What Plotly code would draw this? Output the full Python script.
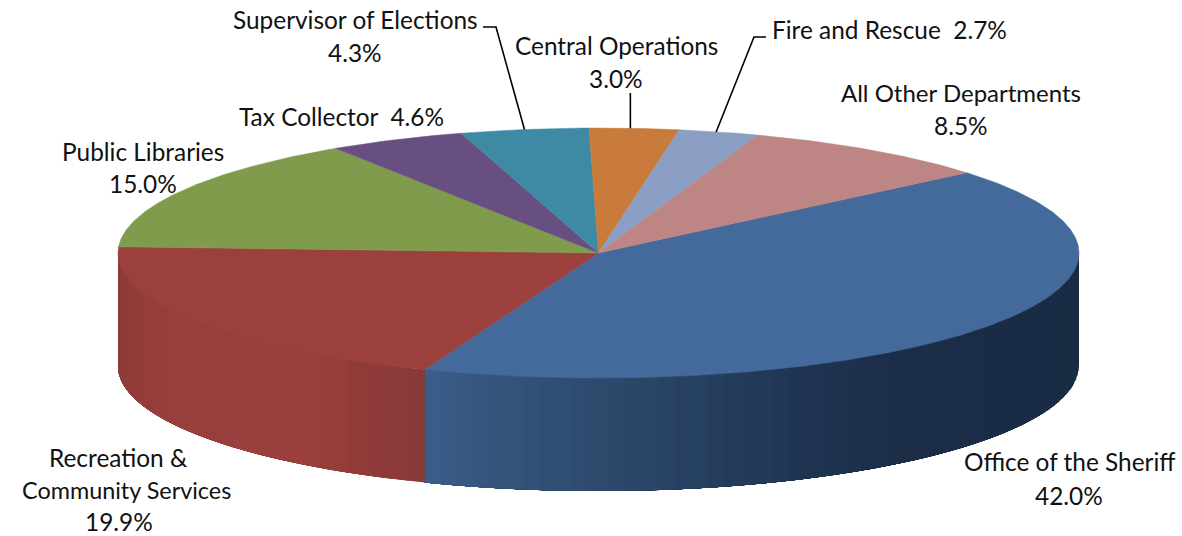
import math
import plotly.graph_objects as go

# ---- data ----
categories = ["Office of the Sheriff", "Recreation & Community Services", "Public Libraries",
              "Tax Collector", "Supervisor of Elections", "Central Operations",
              "Fire and Rescue", "All Other Departments"]
shares = [42.0, 19.9, 15.0, 4.6, 4.3, 3.0, 2.7, 8.5]
top_colors = ["#446a9c", "#9c403e", "#809b4b", "#684f82", "#3e8aa4", "#c97b3b", "#8a9fc3", "#bd8583"]
first_angle = 50.0

# pie projection
CX, CY, RX, RY, DEPTH = 598.5, 253, 480.5, 125, 113

# label lines: text, centre x, centre y, font size
label_lines = [
    ("Supervisor of Elections", 355, 19, 24.4), ("{4}", 355, 52, 24.4),
    ("Central Operations", 616, 45, 24.4), ("{5}", 616, 78, 24.4),
    ("Fire and Rescue\u00a0 {6}", 889, 29, 24.4),
    ("All Other Departments", 961, 92, 24), ("{7}", 961, 125, 24.4),
    ("Tax Collector\u00a0 {3}", 341, 116, 24.4),
    ("Public Libraries", 143, 151, 24.4), ("{2}", 143, 183, 24.4),
    ("Office of the Sheriff", 1069, 461, 24.4), ("{0}", 1069, 495, 24.4),
    ("Recreation &", 118, 457, 24.4), ("Community Services", 126, 490, 23.4), ("{1}", 119, 521, 24.4),
]

# side wall shading: pixel x -> colour
red_wall = [(118, "#8f3b39"), (170, "#983e3c"), (300, "#9a3f3d"), (340, "#943d3b"), (400, "#8b3a39"), (426, "#863a39")]
blue_wall = [(426, "#3b5d89"), (500, "#34547b"), (650, "#2a4566"), (800, "#1f3552"), (900, "#1b2d47"), (1080, "#1a2c44")]


def pt(a, dy=0):
    r = math.radians(a)
    return CX + RX * math.sin(r), CY - RY * math.cos(r) + dy


def mix(stops, x):
    for (x0, c0), (x1, c1) in zip(stops, stops[1:]):
        if x <= x1:
            t = max(0, (x - x0) / (x1 - x0))
            a = [int(c0[i:i + 2], 16) for i in (1, 3, 5)]
            b = [int(c1[i:i + 2], 16) for i in (1, 3, 5)]
            return "rgb(%d,%d,%d)" % tuple(round(p + (q - p) * t) for p, q in zip(a, b))
    return stops[-1][1]


# slice boundaries
edges = [first_angle]
for s in shares:
    edges.append(edges[-1] + s * 3.6)

fig = go.Figure()


def poly(xs, ys, color, lw=0.8):
    fig.add_trace(go.Scatter(x=xs, y=ys, mode="lines", fill="toself", fillcolor=color,
                             line=dict(color=color, width=lw), hoverinfo="skip", showlegend=False))


# side walls: the visible front half; each band runs to the wall's far end, later bands paint over it
for a0, a1, stops in [(90, edges[1], blue_wall), (edges[1], 270, red_wall)]:
    n = max(2, int((a1 - a0) / 2.0))
    for i in range(n):
        s0 = a0 + (a1 - a0) * i / n
        s1 = a0 + (a1 - a0) * (i + 1) / n
        m = 12
        arc = [pt(s0 + (a1 - s0) * k / m) for k in range(m + 1)]
        xs = [p[0] for p in arc] + [p[0] for p in reversed(arc)]
        ys = [p[1] for p in arc] + [p[1] + DEPTH for p in reversed(arc)]
        poly(xs, ys, mix(stops, (pt(s0)[0] + pt(s1)[0]) / 2), 0)

# top face sectors
for i, c in enumerate(top_colors):
    a0, a1 = edges[i], edges[i + 1]
    n = max(4, int((a1 - a0) / 0.5))
    arc = [pt(a0 + (a1 - a0) * k / n) for k in range(n + 1)]
    poly([CX] + [p[0] for p in arc] + [CX], [CY] + [p[1] for p in arc] + [CY], c, 0.5)

# leader lines to the slice mid-points
mid = lambda i: pt((edges[i] + edges[i + 1]) / 2)
sup, cen, fire = mid(4), mid(5), mid(6)
leaders = [
    ([483, 496, sup[0]], [27, 27, sup[1]]),
    ([cen[0] - 4, cen[0] - 4], [93, cen[1]]),
    ([766, 754, fire[0] - 3], [37, 37, fire[1]]),
]
for xs, ys in leaders:
    fig.add_trace(go.Scatter(x=xs, y=ys, mode="lines", line=dict(color="#000000", width=1.6),
                             hoverinfo="skip", showlegend=False))

# labels
pct = ["%.1f%%" % s for s in shares]
for text, x, y, size in label_lines:
    fig.add_annotation(x=x, y=y, text=text.format(*pct), showarrow=False, xanchor="center", yanchor="middle",
                       font=dict(family="Lato, Open Sans, sans-serif", size=size, color="#111111"))

fig.update_xaxes(range=[0, 1182], visible=False, fixedrange=True)
fig.update_yaxes(range=[536, 0], visible=False, fixedrange=True)
fig.update_layout(width=1182, height=536, margin=dict(l=0, r=0, t=0, b=0),
                  paper_bgcolor="white", plot_bgcolor="white", showlegend=False)
fig.write_html("out.html", config={"displayModeBar": False},
               post_script="document.body.style.margin='0';document.body.style.overflow='hidden';")
